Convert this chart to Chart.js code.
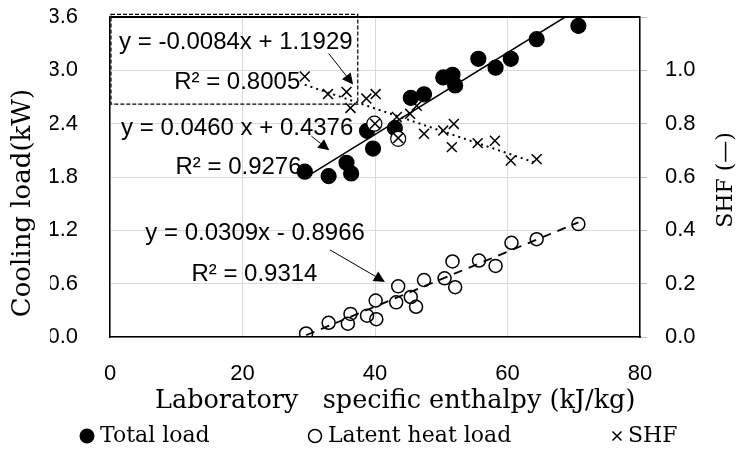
<!DOCTYPE html>
<html>
<head>
<meta charset="utf-8">
<script src="https://cdn.jsdelivr.net/npm/chart.js@4.4.1/dist/chart.umd.min.js"></script>
<style>
  html, body { margin: 0; padding: 0; background: #fff; }
  canvas { display: block; }
</style>
</head>
<body>
<canvas id="chart" width="739" height="454"></canvas>
<script>
// laboratory specific enthalpy (kJ/kg) vs loads
const totalX = [29.4, 33.0, 35.7, 36.4, 38.8, 39.7, 39.9, 43.0, 43.5, 45.4, 47.4, 50.3, 51.7, 52.1, 55.6, 58.2, 60.5, 64.4, 70.7];
const totalY = [1.86, 1.81, 1.96, 1.84, 2.32, 2.12, 2.40, 2.35, 2.23, 2.69, 2.73, 2.92, 2.95, 2.83, 3.13, 3.03, 3.13, 3.35, 3.50];

const latentX = [29.6, 33.0, 35.9, 36.3, 38.8, 40.2, 40.1, 43.2, 43.5, 45.4, 46.2, 47.4, 50.5, 51.7, 52.1, 55.7, 58.2, 60.6, 64.4, 70.7];
const latentY = [0.04, 0.16, 0.15, 0.26, 0.24, 0.20, 0.41, 0.39, 0.57, 0.45, 0.34, 0.64, 0.66, 0.85, 0.56, 0.86, 0.80, 1.06, 1.10, 1.27];

const shfX = [29.4, 32.9, 35.7, 36.3, 38.7, 40.1, 40.0, 43.3, 43.5, 45.3, 46.3, 47.4, 50.3, 51.9, 51.6, 55.5, 58.1, 60.5, 64.4];
const shfY = [0.977, 0.911, 0.919, 0.859, 0.894, 0.911, 0.80, 0.825, 0.746, 0.837, 0.867, 0.762, 0.774, 0.799, 0.712, 0.727, 0.736, 0.662, 0.667];

// trend line end points
const totalTrendX = [29.4, 68.7];
const totalTrendY = [1.79, 3.6];
const latentTrendX = [29.6, 70.7];
const latentTrendY = [0.02, 1.29];
const shfTrendX = [29.4, 64.4];
const shfTrendY = [0.946, 0.652];

const eqText = ["y = -0.0084x + 1.1929", "R² = 0.8005", "y = 0.0460 x + 0.4376", "R² = 0.9276", "y = 0.0309x - 0.8966", "R² = 0.9314"];
const legendText = ["Total load", "Latent heat load", "SHF"];
const xTitle = "Laboratory   specific enthalpy (kJ/kg)";
const yTitle = "Cooling load(kW)";
const y2Title = "SHF (—)";

const pts = (xs, ys) => xs.map((v, i) => ({ x: v, y: ys[i] }));

const SANS = '"Liberation Sans", Arial, sans-serif';
const SERIF = '"DejaVu Serif", serif';

// the two hollow-looking total load markers
const totalFill = totalX.map((v, i) => (i === 6 || i === 8) ? "#fff" : "#000");

function arrow(ctx, x1, y1, x2, y2) {
  const a = Math.atan2(y2 - y1, x2 - x1);
  const len = 11, w = 5.5;
  const bx = x2 - Math.cos(a) * len, by = y2 - Math.sin(a) * len;
  ctx.beginPath();
  ctx.moveTo(x1, y1);
  ctx.lineTo(bx, by);
  ctx.stroke();
  ctx.beginPath();
  ctx.moveTo(x2, y2);
  ctx.lineTo(bx + w * Math.sin(a), by - w * Math.cos(a));
  ctx.lineTo(bx - w * Math.sin(a), by + w * Math.cos(a));
  ctx.closePath();
  ctx.fill();
}

const overlay = {
  id: "overlay",
  afterDraw(chart) {
    const { ctx, chartArea: a, scales } = chart;
    const px = v => scales.x.getPixelForValue(v);
    const py = v => scales.y.getPixelForValue(v);
    ctx.save();
    ctx.fillStyle = "#000";
    ctx.strokeStyle = "#000";

    // dashed frame round the SHF equation
    ctx.lineWidth = 1.2;
    ctx.setLineDash([4, 2]);
    ctx.strokeRect(px(0.15), py(3.63), px(37.4) - px(0.15), py(2.62) - py(3.63));
    ctx.setLineDash([]);

    // trend line equations
    const eqAt = [[19.0, 3.31], [19.2, 2.87], [19.2, 2.35], [19.4, 1.91], [21.9, 1.17], [21.8, 0.70]];
    ctx.font = "24px " + SANS;
    ctx.textAlign = "center";
    ctx.textBaseline = "middle";
    eqText.forEach((t, i) => ctx.fillText(t, px(eqAt[i][0]), py(eqAt[i][1])));

    // arrows
    ctx.lineWidth = 1;
    [[33.0, 3.19, 36.7, 2.84], [30.4, 2.26, 33.1, 2.10], [33.2, 0.98, 41.5, 0.62]]
      .forEach(r => arrow(ctx, px(r[0]), py(r[1]), px(r[2]), py(r[3])));

    // axis titles
    ctx.font = "25.5px " + SERIF;
    ctx.textAlign = "left";
    ctx.fillText(xTitle, a.left + 45, a.bottom + 64);

    ctx.font = "26px " + SERIF;
    ctx.textAlign = "center";
    ctx.save();
    ctx.translate(a.left - 87, a.top + 186);
    ctx.rotate(-Math.PI / 2);
    ctx.fillText(yTitle, 0, 0);
    ctx.restore();

    ctx.font = "22px " + SERIF;
    ctx.save();
    ctx.translate(a.right + 86, (a.top + a.bottom) / 2 + 3);
    ctx.rotate(-Math.PI / 2);
    ctx.fillText(y2Title, 0, 0);
    ctx.restore();

    // legend
    const ly = 436;
    ctx.textAlign = "left";
    ctx.font = "22px " + SERIF;
    ctx.beginPath(); ctx.arc(87, ly, 7.5, 0, Math.PI * 2); ctx.fill();
    ctx.fillText(legendText[0], 100, ly);
    ctx.lineWidth = 1.5;
    ctx.beginPath(); ctx.arc(315, ly, 6.5, 0, Math.PI * 2); ctx.stroke();
    ctx.fillText(legendText[1], 328, ly);
    ctx.beginPath();
    ctx.moveTo(612.5, ly - 4.5); ctx.lineTo(621.5, ly + 4.5);
    ctx.moveTo(621.5, ly - 4.5); ctx.lineTo(612.5, ly + 4.5);
    ctx.stroke();
    ctx.fillText(legendText[2], 628, ly);
    ctx.restore();
  }
};

new Chart(document.getElementById("chart"), {
  type: "scatter",
  data: {
    datasets: [
      {
        label: "SHF", data: pts(shfX, shfY), yAxisID: "y2",
        pointStyle: "crossRot", pointRadius: 7, borderColor: "#000", borderWidth: 1.5
      },
      {
        label: "Total load", data: pts(totalX, totalY),
        pointRadius: 7.5, pointBackgroundColor: totalFill, borderColor: "#000", borderWidth: 1.2
      },
      {
        label: "Latent heat load", data: pts(latentX, latentY),
        pointRadius: 6.5, backgroundColor: "rgba(0,0,0,0)", borderColor: "#000", borderWidth: 1.5
      },
      {
        label: "total trend", data: pts(totalTrendX, totalTrendY), showLine: true,
        pointRadius: 0, borderColor: "#000", borderWidth: 1.5
      },
      {
        label: "latent trend", data: pts(latentTrendX, latentTrendY), showLine: true,
        pointRadius: 0, borderColor: "#000", borderWidth: 1.8, borderDash: [9, 7]
      },
      {
        label: "shf trend", data: pts(shfTrendX, shfTrendY), yAxisID: "y2", showLine: true,
        pointRadius: 0, borderColor: "#000", borderWidth: 2, borderDash: [2, 4]
      }
    ]
  },
  options: {
    responsive: false,
    animation: false,
    layout: { padding: { left: 50, right: 35, top: 17, bottom: 0 } },
    plugins: { legend: { display: false }, tooltip: { enabled: false } },
    scales: {
      x: {
        type: "linear", position: "bottom", min: 0, max: 80,
        ticks: { stepSize: 20, color: "#000", font: { family: SANS, size: 22 }, padding: 24 },
        grid: { color: "#d9d9d9", drawTicks: false },
        border: { color: "#000", width: 1.5 },
        afterFit: s => { s.height = 117; }
      },
      y: {
        position: "left", min: 0, max: 3.6,
        ticks: { stepSize: 0.6, color: "#000", font: { family: SANS, size: 22 }, padding: 32,
                 callback: v => v.toFixed(1) },
        grid: {
          drawTicks: false,
          color: c => c.index === 6 ? "#000" : "#d9d9d9",
          lineWidth: c => c.index === 6 ? 2 : 1
        },
        border: { color: "#000", width: 1.5 },
        afterFit: s => { s.width = 60; s.paddingTop = 0; s.paddingBottom = 0; }
      },
      y2: {
        position: "right", min: 0, max: 1.2,
        ticks: { stepSize: 0.2, color: "#000", font: { family: SANS, size: 22 }, padding: 18,
                 callback: (v, i, t) => i === t.length - 1 ? "" : v.toFixed(1) },
        grid: { drawOnChartArea: false, drawTicks: true, tickLength: 7, color: "#bfbfbf" },
        border: { color: "#000", width: 1.5 },
        afterFit: s => { s.width = 64; s.paddingTop = 0; s.paddingBottom = 0; }
      }
    }
  },
  plugins: [overlay]
});
</script>
</body>
</html>
